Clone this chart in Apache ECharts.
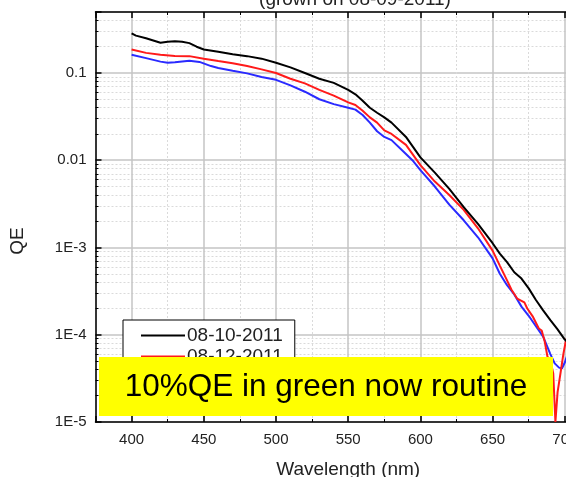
<!DOCTYPE html>
<html>
<head>
<meta charset="utf-8">
<script src="https://cdn.jsdelivr.net/npm/echarts@6/dist/echarts.min.js"></script>
<style>
  html, body { margin: 0; padding: 0; background: #fff; }
  #chart { width: 566px; height: 477px; }
</style>
</head>
<body>
<div id="chart"></div>
<script>
// Quantum efficiency spectra of three photocathode measurements (log scale)
const blackName = '08-10-2011';
const blackWl = [400, 403, 410, 420, 425, 430, 435, 440, 445, 450, 460, 470, 480, 490, 500, 510, 520, 530, 540, 550, 555, 560, 565, 570, 575, 580, 590, 600, 610, 620, 630, 640, 650, 655, 660, 665, 670, 675, 680, 685, 690, 695, 700, 705];
const blackQE = [0.285, 0.268, 0.250, 0.222, 0.228, 0.231, 0.228, 0.220, 0.200, 0.186, 0.175, 0.164, 0.156, 0.146, 0.131, 0.116, 0.100, 0.086, 0.077, 0.064, 0.057, 0.048, 0.040, 0.035, 0.031, 0.027, 0.0185, 0.0108, 0.0072, 0.0047, 0.0029, 0.00185, 0.00112, 0.00085, 0.00068, 0.00052, 0.00044, 0.00034, 0.00025, 0.00019, 0.000147, 0.000115, 0.000088, 0.000075];

const redName = '08-12-2011';
const redWl = [400, 410, 420, 430, 440, 450, 460, 470, 480, 490, 500, 510, 520, 530, 540, 550, 555, 560, 565, 570, 575, 580, 590, 600, 610, 620, 630, 640, 650, 655, 660, 663, 667, 670, 672, 674, 678, 682, 684, 686, 688, 690, 692, 693.5, 695, 697, 699, 701];
const redQE = [0.186, 0.170, 0.162, 0.157, 0.156, 0.146, 0.137, 0.129, 0.120, 0.110, 0.100, 0.086, 0.076, 0.064, 0.055, 0.046, 0.043, 0.037, 0.031, 0.027, 0.022, 0.020, 0.0150, 0.0088, 0.0057, 0.0040, 0.0027, 0.00165, 0.00092, 0.00062, 0.00042, 0.00033, 0.00026, 0.000245, 0.000235, 0.00020, 0.00016, 0.000118, 0.000112, 0.000085, 0.000056, 0.000051, 0.000036, 0.00001, 0.000022, 0.000036, 0.00006, 0.00009];

const blueWl = [400, 410, 420, 425, 430, 440, 447, 455, 460, 470, 480, 490, 500, 510, 520, 530, 540, 550, 555, 560, 565, 570, 575, 580, 590, 595, 600, 610, 620, 630, 640, 650, 655, 660, 665, 670, 675, 680, 685, 690, 693, 696, 698, 700, 702];
const blueQE = [0.162, 0.148, 0.135, 0.131, 0.133, 0.138, 0.134, 0.120, 0.114, 0.106, 0.099, 0.090, 0.0835, 0.072, 0.061, 0.050, 0.044, 0.040, 0.038, 0.033, 0.027, 0.0215, 0.0185, 0.0170, 0.0118, 0.0098, 0.0077, 0.0050, 0.0031, 0.00205, 0.0013, 0.00075, 0.00050, 0.00037, 0.00029, 0.00021, 0.000165, 0.000125, 0.000095, 0.000060, 0.000047, 0.000042, 0.000041, 0.000048, 0.00006];

// Decade labels of the QE axis, from 1E-5 up to 0.1
const decadeLabels = ['1E-5', '1E-4', '1E-3', '0.01', '0.1'];
const xTickStep = 50;

const FONT = "'Liberation Sans', Arial, sans-serif";
const zip = (xs, ys) => xs.map((x, i) => [x, ys[i]]);

const chart = echarts.init(document.getElementById('chart'), null, { renderer: 'canvas' });

const frameLine = { show: true, lineStyle: { color: '#000', width: 1.5 } };
const majorTick = { show: true, inside: true, length: 6, lineStyle: { color: '#000', width: 1.5 } };

const xCommon = {
  type: 'value', min: 375, max: 725, splitNumber: 7,
  axisLine: frameLine, axisTick: majorTick,
  minorTick: { show: true, splitNumber: 2, length: 3, lineStyle: { color: '#000', width: 1 } }
};
const yCommon = {
  type: 'log', logBase: 10, min: 1e-5, max: 0.5,
  axisLine: frameLine, axisTick: majorTick,
  minorTick: { show: true, splitNumber: 9, length: 3, lineStyle: { color: '#000', width: 1 } }
};

const option = {
  animation: false,
  backgroundColor: '#fff',
  title: {
    text: '(grown on 08-09-2011)',
    left: 350, top: -15, textAlign: 'center',
    textStyle: { fontFamily: FONT, fontSize: 19, fontWeight: 'normal', color: '#222' }
  },
  grid: { left: 95.5, top: 12, width: 505.4, height: 410, containLabel: false, outerBoundsMode: 'none' },
  legend: {
    data: [blackName, redName],
    orient: 'vertical', left: 123, top: 320,
    padding: [6, 12, 8, 18], itemGap: 2,
    itemWidth: 44, itemHeight: 2, icon: 'rect',
    backgroundColor: '#fff', borderColor: '#000', borderWidth: 1,
    textStyle: { fontFamily: FONT, fontSize: 19, color: '#222', padding: [0, 0, 0, -3] }
  },
  xAxis: [
    Object.assign({}, xCommon, {
      position: 'bottom',
      axisLabel: {
        formatter: v => (v % xTickStep === 0 ? String(v) : ''),
        fontFamily: FONT, fontSize: 15, color: '#222', margin: 10
      },
      splitLine: { show: true, lineStyle: { color: '#c4c4c4', width: 1.5 } },
      minorSplitLine: { show: true, lineStyle: { color: '#dadada', width: 1, type: [2, 2] } },
      name: 'Wavelength (nm)', nameLocation: 'middle', nameGap: 38,
      nameTextStyle: { fontFamily: FONT, fontSize: 19, color: '#222' }
    }),
    Object.assign({}, xCommon, {
      position: 'top',
      axisLabel: { show: false },
      splitLine: { show: false }
    })
  ],
  yAxis: [
    Object.assign({}, yCommon, {
      position: 'left',
      axisLabel: {
        formatter: v => {
          const e = Math.log10(v);
          const r = Math.round(e);
          if (Math.abs(e - r) > 1e-6) return '';
          return decadeLabels[r + 5] || '';
        },
        fontFamily: FONT, fontSize: 15, color: '#222', margin: 9
      },
      splitLine: { show: true, lineStyle: { color: '#c4c4c4', width: 1.5 } },
      minorSplitLine: { show: true, lineStyle: { color: '#dadada', width: 1, type: [2, 2] } }
    }),
    Object.assign({}, yCommon, {
      position: 'right',
      axisLabel: { show: false },
      splitLine: { show: false }
    })
  ],
  series: [
    {
      name: blackName, type: 'line', xAxisIndex: 0, yAxisIndex: 0,
      data: zip(blackWl, blackQE), symbol: 'none', z: 4,
      lineStyle: { color: '#000', width: 2 }, itemStyle: { color: '#000' }
    },
    {
      name: redName, type: 'line', xAxisIndex: 0, yAxisIndex: 0,
      data: zip(redWl, redQE), symbol: 'none', z: 3,
      lineStyle: { color: '#ff1a1a', width: 2 }, itemStyle: { color: '#ff1a1a' }
    },
    {
      name: 'blue', type: 'line', xAxisIndex: 0, yAxisIndex: 0,
      data: zip(blueWl, blueQE), symbol: 'none', z: 2,
      lineStyle: { color: '#2a2aff', width: 2 }, itemStyle: { color: '#2a2aff' }
    }
  ],
  graphic: [
    {
      type: 'text', x: 17.5, y: 241, rotation: Math.PI / 2, z: 10,
      style: { text: 'QE', font: '19px ' + FONT, fill: '#222', textAlign: 'center', textVerticalAlign: 'middle', verticalAlign: 'middle' }
    },
    {
      type: 'rect', z: 100,
      shape: { x: 99, y: 357, width: 454, height: 59 },
      style: { fill: '#ffff00' }
    },
    {
      type: 'text', x: 326, y: 387, z: 101,
      style: { text: '10%QE in green now routine', font: '31.5px ' + FONT, fill: '#000', textAlign: 'center', textVerticalAlign: 'middle', verticalAlign: 'middle' }
    }
  ]
};

chart.setOption(option);
</script>
</body>
</html>
